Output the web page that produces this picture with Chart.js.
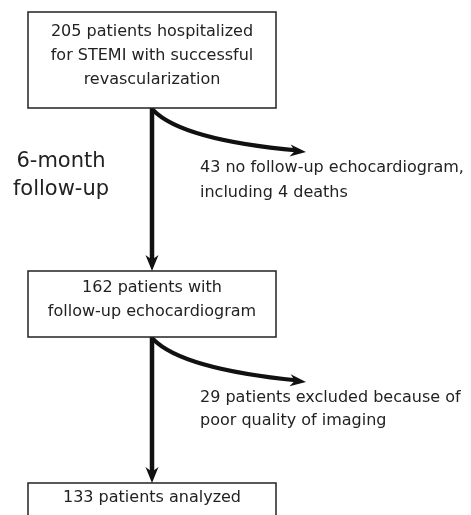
<!DOCTYPE html>
<html><head><meta charset="utf-8">
<script src="https://cdn.jsdelivr.net/npm/chart.js@4"></script>
<style>html,body{margin:0;padding:0;background:#fff}#wrap{width:471px;height:515px;position:relative}</style>
</head><body><div id="wrap"><canvas id="c"></canvas></div>
<script>
'use strict';
// flow stages (patients remaining) and exclusions
const stageLabels=[
  ['205 patients hospitalized','for STEMI with successful','revascularization'],
  ['162 patients with','follow-up echocardiogram'],
  ['133 patients analyzed']
];
const exclusionLabels=[
  ['43 no follow-up echocardiogram,','including 4 deaths'],
  ['29 patients excluded because of','poor quality of imaging']
];
const periodLabel=['6-month','follow-up'];

// layout in canvas units (x 0..471, y 0..515 top-down)
const L={
  axisX:152, boxL:28, boxR:276,
  boxes:[{t:12,b:108,ly:[32,56,80]},{t:271,b:337,ly:[288,312]},{t:483,b:530,ly:[498]}],
  branch:[{tip:[306,152],ctl:[182,140],ty:[168,193],tx:200},{tip:[306,382],ctl:[182,369],ty:[398,421],tx:200}],
  period:{x:61,y:[162,190]}
};
const FONT='"DejaVu Sans", sans-serif', INK='#222';

function arrowHead(ctx,x,y,ang,len,w){
  ctx.save(); ctx.translate(x,y); ctx.rotate(ang);
  ctx.beginPath(); ctx.moveTo(0,0); ctx.lineTo(-len,-w/2); ctx.lineTo(-len*0.7,0); ctx.lineTo(-len,w/2); ctx.closePath();
  ctx.fillStyle='#111'; ctx.fill(); ctx.restore();
}

const flow={id:'flow',afterDatasetsDraw(ch){
  const ctx=ch.ctx, X=v=>ch.scales.x.getPixelForValue(v), Y=v=>ch.scales.y.getPixelForValue(v);
  ctx.save();
  // boxes + text
  stageLabels.forEach((lines,i)=>{
    const b=L.boxes[i];
    ctx.fillStyle='#fff'; ctx.fillRect(X(L.boxL),Y(b.t),X(L.boxR)-X(L.boxL),Y(b.b)-Y(b.t));
    ctx.lineWidth=1.5; ctx.strokeStyle='#222'; ctx.strokeRect(X(L.boxL),Y(b.t),X(L.boxR)-X(L.boxL),Y(b.b)-Y(b.t));
    ctx.font='16px '+FONT; ctx.fillStyle=INK; ctx.textAlign='center'; ctx.textBaseline='middle';
    lines.forEach((s,k)=>ctx.fillText(s,X(L.axisX),Y(b.ly[k])));
  });
  // main arrowheads
  for(let i=1;i<L.boxes.length;i++) arrowHead(ctx,X(L.axisX),Y(L.boxes[i].t),Math.PI/2,16,13);
  // branches
  exclusionLabels.forEach((lines,i)=>{
    const br=L.branch[i], y0=L.boxes[i].b+2;
    ctx.beginPath(); ctx.moveTo(X(L.axisX+1),Y(y0));
    ctx.quadraticCurveTo(X(br.ctl[0]),Y(br.ctl[1]),X(br.tip[0]-8),Y(br.tip[1]-1.5));
    ctx.lineWidth=4; ctx.strokeStyle='#111'; ctx.stroke();
    const ang=Math.atan2(br.tip[1]-br.ctl[1],br.tip[0]-br.ctl[0]);
    arrowHead(ctx,X(br.tip[0]),Y(br.tip[1]),ang,16,12);
    ctx.font='16px '+FONT; ctx.fillStyle=INK; ctx.textAlign='left'; ctx.textBaseline='middle';
    lines.forEach((s,k)=>ctx.fillText(s,X(br.tx),Y(br.ty[k])));
  });
  ctx.font='21px '+FONT; ctx.textAlign='center';
  periodLabel.forEach((s,k)=>ctx.fillText(s,X(L.period.x),Y(L.period.y[k])));
  ctx.restore();
}};

// trunk segments between stages
const trunk=L.boxes.slice(0,-1).map((b,i)=>({
  type:'line',data:[{x:L.axisX,y:b.b},{x:L.axisX,y:L.boxes[i+1].t-10}],
  borderColor:'#111',borderWidth:4.5,pointRadius:0,showLine:true
}));

new Chart(document.getElementById('c'),{
  type:'scatter',
  data:{datasets:trunk},
  options:{responsive:true,maintainAspectRatio:false,animation:false,
    layout:{padding:0},
    plugins:{legend:{display:false},tooltip:{enabled:false}},
    scales:{x:{type:'linear',min:0,max:471,display:false},y:{type:'linear',min:0,max:515,reverse:true,display:false}}},
  plugins:[flow]
});
</script></body></html>
